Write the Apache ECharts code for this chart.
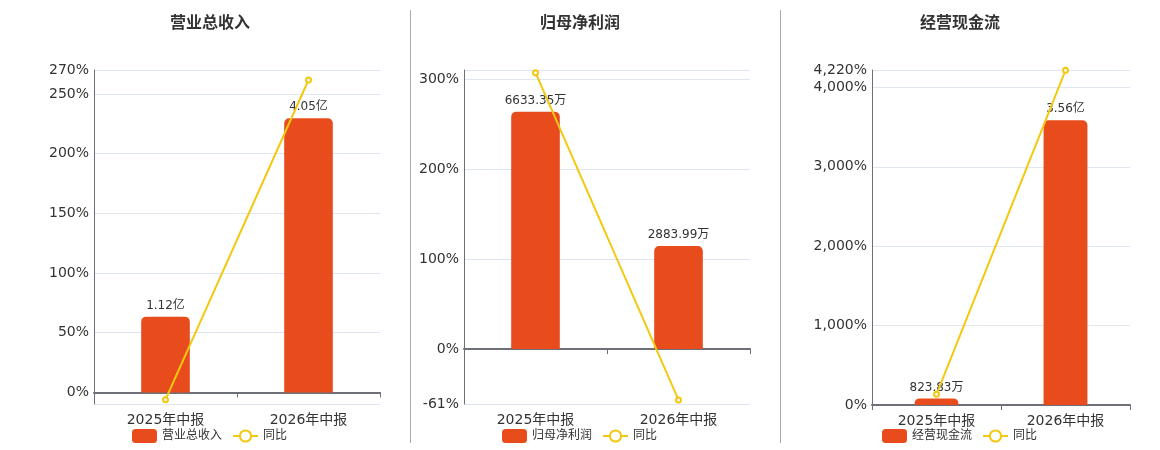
<!DOCTYPE html>
<html>
<head>
<meta charset="utf-8">
<script src="https://cdn.jsdelivr.net/npm/echarts@6/dist/echarts.min.js"></script>
<style>
  html, body { margin: 0; padding: 0; background: #fff; }
  #main { width: 1160px; height: 450px; }
</style>
</head>
<body>
<div id="main"></div>
<script>
const categories = ['2025年中报', '2026年中报'];
const titles = ['营业总收入', '归母净利润', '经营现金流'];
// 金额，单位：万元
const revenue = [11200, 40500];
const netProfit = [6633.35, 2883.99];
const cashFlow = [823.83, 35600];
// 同比，单位：%
const revenueYoy = [-6.1, 261.6];
const netProfitYoy = [307, -56.5];
const cashFlowYoy = [135, 4216];
// 同比轴范围
const pctMin = [-9.7, -61, 0];
const pctMax = [270, 310, 4220];
const showMin = [false, true, true];
const showMax = [true, false, true];

const amounts = [revenue, netProfit, cashFlow];
const yoys = [revenueYoy, netProfitYoy, cashFlowYoy];

const BAR_COLOR = '#E84C1D';
const LINE_COLOR = '#F3C811';
const FONT = '"DejaVu Sans", "Noto Sans CJK SC", sans-serif';

// 每个面板的位置
const grids = [
    { left: 94, right: 780, top: 70, bottom: 46 },
    { left: 464, right: 410, top: 70, bottom: 46 },
    { left: 872, right: 30, top: 70, bottom: 45 }
];
const centers = [210, 580, 960];

function fmtAmount(v) {
    return v >= 10000 ? (v / 10000).toFixed(2) + '亿' : v.toFixed(2) + '万';
}
function fmtPct(v) {
    return (Math.round(v * 10) / 10).toLocaleString('en-US') + '%';
}

const chart = echarts.init(document.getElementById('main'));

const option = {
    animation: false,
    textStyle: { fontFamily: FONT },
    title: [],
    legend: [],
    grid: grids,
    xAxis: [],
    yAxis: [],
    series: [],
    graphic: [410.5, 780.5].map(x => ({
        type: 'line',
        shape: { x1: x, y1: 10, x2: x, y2: 443 },
        style: { stroke: '#aaa', lineWidth: 1 }
    }))
};

for (let i = 0; i < 3; i++) {
    const barMax = Math.max(...amounts[i]) / 0.85;
    const barMin = pctMin[i] / pctMax[i] * barMax;

    option.title.push({
        text: titles[i],
        left: centers[i] - 5,
        top: 11,
        textAlign: 'center',
        textStyle: { fontSize: 16, fontWeight: 'bold', color: '#333', fontFamily: FONT }
    });

    option.legend.push({
        data: [titles[i], '同比'],
        left: centers[i] - 83,
        top: 424,
        itemWidth: 25,
        itemHeight: 14,
        itemGap: 10,
        textStyle: { fontSize: 12, color: '#333', fontFamily: FONT }
    });

    // 零轴（线 + 刻度）
    option.xAxis.push({
        type: 'category',
        gridIndex: i,
        data: categories,
        position: 'bottom',
        axisLine: { onZero: true, lineStyle: { color: '#6E7079', width: 2 } },
        axisTick: { show: true, lineStyle: { color: '#6E7079' } },
        axisLabel: { show: false }
    });
    // 底部标签
    option.xAxis.push({
        type: 'category',
        gridIndex: i,
        data: categories,
        position: 'bottom',
        axisLine: { show: false, onZero: false },
        axisTick: { show: false },
        axisLabel: { color: '#333', fontSize: 14, margin: 9 }
    });

    option.yAxis.push({
        type: 'value',
        gridIndex: i,
        position: 'left',
        min: pctMin[i],
        max: pctMax[i],
        splitNumber: 5,
        axisLine: { show: true, lineStyle: { color: '#6E7079' } },
        axisTick: { show: false },
        splitLine: { lineStyle: { color: '#E0E6F1' } },
        axisLabel: {
            color: '#333',
            fontSize: 14,
            margin: 5,
            showMinLabel: showMin[i],
            showMaxLabel: showMax[i],
            formatter: fmtPct
        }
    });
    option.yAxis.push({
        type: 'value',
        gridIndex: i,
        position: 'right',
        show: false,
        min: barMin,
        max: barMax,
        splitLine: { show: false }
    });

    option.series.push({
        name: titles[i],
        type: 'bar',
        xAxisIndex: 2 * i,
        yAxisIndex: 2 * i + 1,
        data: amounts[i],
        barWidth: '34%',
        itemStyle: { color: BAR_COLOR, borderRadius: [5, 5, 0, 0] },
        label: {
            show: true,
            position: 'top',
            color: '#333',
            fontSize: 12,
            formatter: p => fmtAmount(p.value)
        }
    });
    option.series.push({
        name: '同比',
        type: 'line',
        xAxisIndex: 2 * i,
        yAxisIndex: 2 * i,
        data: yoys[i],
        symbol: 'emptyCircle',
        symbolSize: 5,
        z: 3,
        itemStyle: { color: LINE_COLOR },
        lineStyle: { color: LINE_COLOR, width: 2 }
    });
}

chart.setOption(option);
window.addEventListener('resize', () => chart.resize());
</script>
</body>
</html>
